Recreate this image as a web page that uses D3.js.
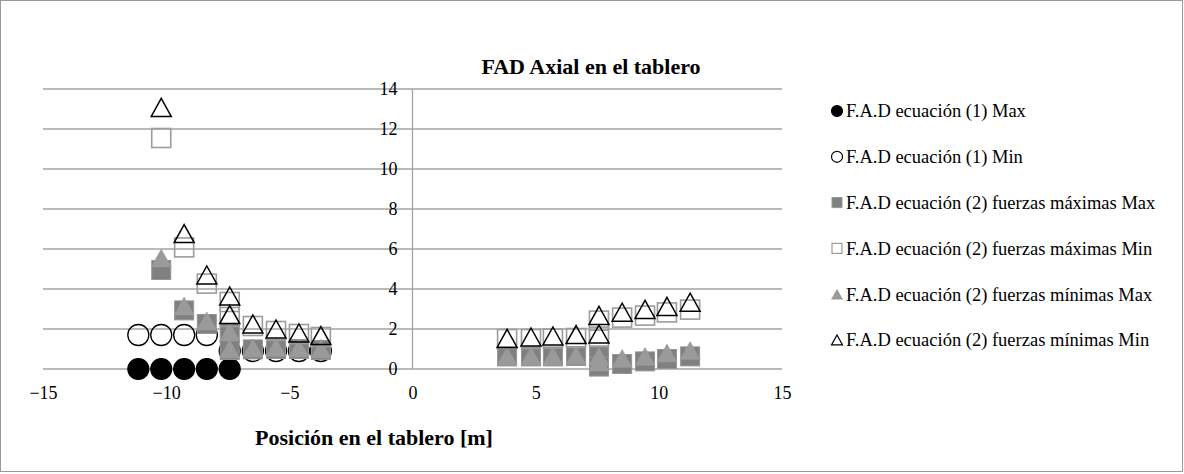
<!DOCTYPE html>
<html>
<head>
<meta charset="utf-8">
<script src="https://cdn.jsdelivr.net/npm/d3@7"></script>
<style>
  html, body { margin: 0; padding: 0; background: #fff; }
  svg { display: block; }
</style>
</head>
<body>
<svg id="chart" width="1184" height="474"></svg>
<script>
// Position along the deck [m] and dynamic amplification factor per series
const eq1MaxX = [-11.13, -10.2, -9.27, -8.35, -7.42];
const eq1MaxY = [0, 0, 0, 0, 0];

const eq1MinX = [-11.13, -10.2, -9.27, -8.35, -7.42, -6.48, -5.54, -4.61, -3.72];
const eq1MinY = [1.7, 1.7, 1.7, 1.7, 0.9, 0.9, 0.9, 0.9, 0.9];

const eq2X = [-10.2, -9.27, -8.35, -7.42, -7.42, -6.48, -5.54, -4.61, -3.72,
              3.84, 4.81, 5.7, 6.64, 7.57, 7.57, 8.51, 9.44, 10.33, 11.27];
const eq2FmaxMaxY = [4.95, 2.93, 2.25, 1.8, 0.95, 0.98, 1.0, 1.0, 0.95,
                     0.63, 0.63, 0.63, 0.65, 0.63, 0.12, 0.25, 0.38, 0.5, 0.63];
const eq2FmaxMinY = [11.55, 6.08, 4.27, 3.35, 2.6, 2.15, 1.9, 1.75, 1.6,
                     1.5, 1.5, 1.52, 1.55, 1.62, 2.42, 2.57, 2.67, 2.83, 2.97];
const eq2FminMaxY = [5.55, 3.15, 2.4, 1.85, 1.0, 1.05, 1.08, 1.05, 1.0,
                     0.65, 0.65, 0.65, 0.68, 0.62, 0.35, 0.53, 0.63, 0.8, 0.92];
const eq2FminMinY = [13.08, 6.77, 4.7, 3.65, 2.72, 2.25, 2.0, 1.8, 1.67,
                     1.53, 1.6, 1.65, 1.72, 1.75, 2.68, 2.84, 2.98, 3.13, 3.34];

const xTicks = [-15, -10, -5, 0, 5, 10, 15];
const yTicks = [0, 2, 4, 6, 8, 10, 12, 14];

const seriesNames = [
  "F.A.D ecuación (1) Max",
  "F.A.D ecuación (1) Min",
  "F.A.D ecuación (2) fuerzas máximas Max",
  "F.A.D ecuación (2) fuerzas máximas Min",
  "F.A.D ecuación (2) fuerzas mínimas Max",
  "F.A.D ecuación (2) fuerzas mínimas Min"
];

const chartTitle = "FAD Axial en el tablero";
const xTitle = "Posición en el tablero [m]";

const FONT = "'Liberation Serif', 'DejaVu Serif'";

// ---- layout ----
const svg = d3.select("#chart").attr("font-family", FONT);
const W = 1184, H = 474;
const plot = { left: 43, right: 782, top: 89, bottom: 369 };

const x = d3.scaleLinear().domain([-15, 15]).range([plot.left, plot.right]);
const y = d3.scaleLinear().domain([0, 14]).range([plot.bottom, plot.top]);

// outer frame
svg.append("rect")
  .attr("x", 0.5).attr("y", 0.5)
  .attr("width", W - 2).attr("height", H - 3)
  .attr("fill", "#fff").attr("stroke", "#9a9a9a").attr("stroke-width", 1);

// marker shapes
function triPath(w, h) {
  return `M0,${-h / 2}L${w / 2},${h / 2}L${-w / 2},${h / 2}Z`;
}
const styles = [
  { kind: "circle", size: 21, legendSize: 11, fill: "#000", stroke: "#000", sw: 1.2 },
  { kind: "circle", size: 21, legendSize: 11, fill: "none", stroke: "#000", sw: 1.3 },
  { kind: "square", size: 19, legendSize: 10, fill: "#808080", stroke: "#969696", sw: 1 },
  { kind: "square", size: 19, legendSize: 10, fill: "none", stroke: "#9c9c9c", sw: 1.6 },
  { kind: "triangle", size: 20, legendSize: 11, fill: "#9a9a9a", stroke: "#9a9a9a", sw: 0.5 },
  { kind: "triangle", size: 20, legendSize: 11, fill: "none", stroke: "#000", sw: 1.5 }
];

function drawMarker(g, st, size) {
  if (st.kind === "circle") {
    return g.append("circle").attr("r", size / 2);
  } else if (st.kind === "square") {
    return g.append("rect").attr("x", -size / 2).attr("y", -size / 2)
      .attr("width", size).attr("height", size);
  } else {
    return g.append("path").attr("d", triPath(size, size * 0.9));
  }
}

// ---- gridlines ----
const grid = svg.append("g");
grid.selectAll("line").data(yTicks).join("line")
  .attr("x1", plot.left).attr("x2", plot.right)
  .attr("y1", d => y(d)).attr("y2", d => y(d))
  .attr("stroke", "#a3a3a3").attr("stroke-width", 1.3);

// vertical axis through x = 0
svg.append("line")
  .attr("x1", x(0)).attr("x2", x(0))
  .attr("y1", y(14)).attr("y2", y(0))
  .attr("stroke", "#a3a3a3").attr("stroke-width", 1.3);

// y tick labels beside the axis
const yAxis = d3.axisLeft(y).tickValues(yTicks).tickSize(0).tickPadding(15);
const yg = svg.append("g").attr("transform", `translate(${x(0)},0)`).call(yAxis);
yg.attr("font-family", FONT).attr("font-size", 18);
yg.select(".domain").remove();
yg.selectAll("text").attr("fill", "#000");

// x tick labels under the plot
const xAxis = d3.axisBottom(x).tickValues(xTicks).tickSize(0).tickPadding(17);
const xg = svg.append("g").attr("transform", `translate(0,${plot.bottom})`).call(xAxis);
xg.attr("font-family", FONT).attr("font-size", 18);
xg.select(".domain").remove();
xg.selectAll("text").attr("fill", "#000");

// ---- series ----
const seriesData = [
  { xs: eq1MaxX, ys: eq1MaxY },
  { xs: eq1MinX, ys: eq1MinY },
  { xs: eq2X, ys: eq2FmaxMaxY },
  { xs: eq2X, ys: eq2FmaxMinY },
  { xs: eq2X, ys: eq2FminMaxY },
  { xs: eq2X, ys: eq2FminMinY }
];

seriesData.forEach((s, i) => {
  const st = styles[i];
  const pts = s.xs.map((xv, j) => ({ x: xv, y: s.ys[j] }));
  const g = svg.append("g").attr("class", "series-" + i);
  pts.forEach(p => {
    const m = g.append("g").attr("transform", `translate(${x(p.x)},${y(p.y)})`);
    drawMarker(m, st, st.size)
      .attr("fill", st.fill).attr("stroke", st.stroke).attr("stroke-width", st.sw);
  });
});

// ---- titles ----
svg.append("text")
  .attr("x", 591).attr("y", 74)
  .attr("text-anchor", "middle")
  .attr("font-size", 22).attr("font-weight", "bold")
  .text(chartTitle);

svg.append("text")
  .attr("x", 374).attr("y", 445)
  .attr("text-anchor", "middle")
  .attr("font-size", 22).attr("font-weight", "bold")
  .text(xTitle);

// ---- legend ----
const legend = svg.append("g");
const legendX = 837, legendY0 = 111, legendStep = 45.8;
seriesNames.forEach((name, i) => {
  const st = styles[i];
  const row = legend.append("g").attr("transform", `translate(${legendX},${legendY0 + i * legendStep})`);
  drawMarker(row, st, st.legendSize)
    .attr("fill", st.fill).attr("stroke", st.stroke)
    .attr("stroke-width", Math.min(st.sw, 1.2));
  row.append("text")
    .attr("x", 9).attr("y", 0).attr("dy", "0.35em")
    .attr("font-size", 18.5)
    .text(name);
});
</script>
</body>
</html>
